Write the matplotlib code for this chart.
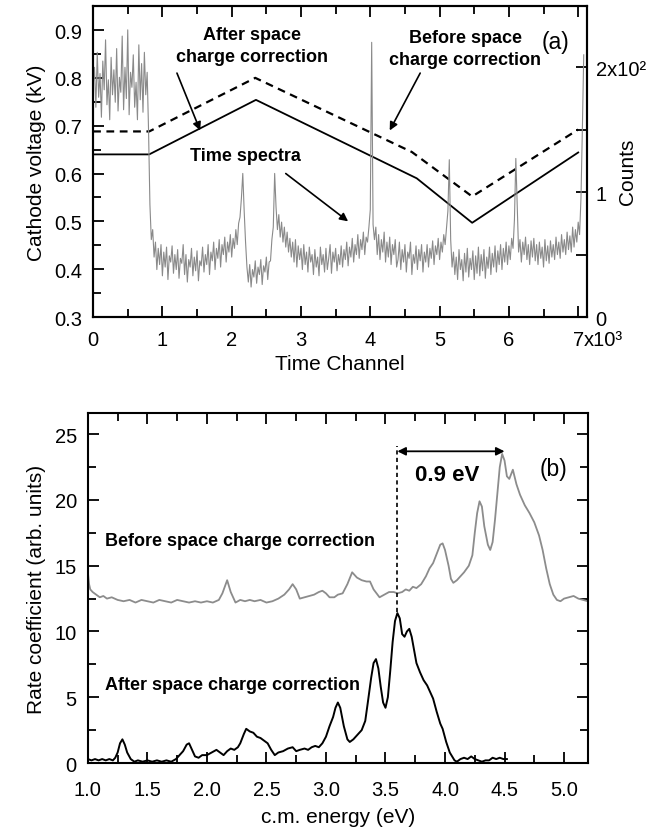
import numpy as np
import matplotlib.pyplot as plt
from matplotlib.ticker import MultipleLocator

plt.rcParams['font.family'] = ['Liberation Sans', 'DejaVu Sans']
plt.rcParams['axes.linewidth'] = 1.5

# ---- panel (a) data ----
# time spectrum, one value every 20 channels (0 ... 7080)
counts = [185, 200, 168, 212, 176, 195, 160, 205, 182, 222, 170, 190, 158, 208, 178, 198, 172, 215, 165, 192,
          180, 225, 166, 200, 175, 230, 162, 196, 184, 210, 168, 188, 158, 218, 174, 203, 164, 212, 178, 196,
          150, 90, 62, 70, 48, 60, 38, 55, 42, 58, 33, 52, 40, 56, 30, 49, 44, 57, 35, 50,
          38, 54, 31, 47, 43, 58, 34, 50, 28, 46, 40, 55, 33, 48, 37, 53, 29, 45, 41, 56,
          36, 50, 42, 58, 34, 52, 45, 60, 38, 55, 47, 62, 40, 58, 50, 64, 44, 60, 52, 66,
          48, 63, 55, 70, 58, 75, 80, 95, 115, 85, 60, 40, 28, 42, 24, 38, 32, 45, 27, 40,
          34, 46, 26, 41, 36, 48, 30, 44, 45, 62, 72, 115, 88, 70, 82, 64, 76, 60, 72, 56,
          68, 52, 63, 48, 60, 44, 62, 40, 57, 46, 55, 38, 58, 42, 52, 36, 56, 44, 50, 34,
          54, 40, 48, 33, 56, 42, 50, 36, 55, 38, 47, 58, 35, 52, 44, 55, 37, 50, 42, 57,
          40, 54, 46, 60, 41, 56, 48, 63, 44, 58, 50, 66, 47, 62, 54, 68, 50, 64, 60, 72,
          86, 220, 74, 62, 72, 50, 66, 46, 62, 52, 68, 44, 60, 48, 64, 42, 58, 50, 62, 40,
          46, 60, 38, 54, 44, 58, 36, 52, 47, 60, 34, 50, 43, 57, 38, 54, 45, 58, 36, 52,
          44, 58, 40, 55, 47, 61, 42, 57, 50, 63, 46, 60, 52, 66, 58, 72, 85, 126, 62, 40,
          52, 34, 48, 30, 54, 38, 46, 29, 51, 36, 55, 32, 47, 38, 53, 30, 49, 35, 56, 33,
          50, 37, 54, 31, 48, 39, 56, 34, 51, 40, 57, 36, 53, 42, 58, 38, 55, 44, 60, 42,
          57, 46, 63, 55, 78, 127, 88, 52, 62, 44, 60, 50, 64, 46, 58, 42, 61, 48, 63, 45,
          58, 42, 60, 47, 56, 40, 62, 45, 57, 43, 61, 48, 58, 46, 64, 50, 60, 47, 66, 52,
          62, 50, 68, 54, 65, 52, 72, 56, 70, 60, 76, 66, 95, 150, 210]
channel = 20 * np.arange(len(counts))

after_ch = [0, 810, 2350, 4670, 5470, 7000]
after_kv = [0.640, 0.640, 0.754, 0.590, 0.497, 0.644]
before_ch = [0, 810, 2340, 4600, 5470, 7000]
before_kv = [0.688, 0.688, 0.800, 0.645, 0.552, 0.692]

# ---- panel (b) data ----
e_before = [1.00, 1.01, 1.02, 1.04, 1.07, 1.10, 1.13, 1.16, 1.20, 1.25, 1.30, 1.35,
            1.40, 1.45, 1.50, 1.55, 1.60, 1.65, 1.70, 1.75, 1.80, 1.85, 1.90, 1.95,
            2.00, 2.05, 2.10, 2.13, 2.17, 2.20, 2.24, 2.28, 2.32, 2.36, 2.40, 2.45,
            2.50, 2.55, 2.60, 2.65, 2.69, 2.72, 2.75, 2.78, 2.82, 2.86, 2.90, 2.94,
            2.97, 3.00, 3.03, 3.07, 3.10, 3.14, 3.18, 3.22, 3.26, 3.30, 3.34, 3.37,
            3.40, 3.45, 3.49, 3.53, 3.57, 3.60, 3.64, 3.67, 3.70, 3.73, 3.76, 3.80,
            3.84, 3.87, 3.90, 3.93, 3.96, 3.98, 4.00, 4.03, 4.05, 4.07, 4.10, 4.13,
            4.16, 4.20, 4.23, 4.25, 4.27, 4.29, 4.31, 4.33, 4.36, 4.38, 4.40, 4.42,
            4.44, 4.46, 4.48, 4.50, 4.52, 4.54, 4.57, 4.60, 4.63, 4.67, 4.71, 4.75,
            4.79, 4.82, 4.85, 4.88, 4.91, 4.94, 4.97, 5.00, 5.04, 5.08, 5.12, 5.16, 5.20]
r_before = [14.5, 13.6, 13.2, 13.0, 12.8, 12.6, 12.7, 12.5, 12.6, 12.4, 12.3, 12.4,
            12.2, 12.4, 12.3, 12.2, 12.4, 12.3, 12.2, 12.4, 12.3, 12.2, 12.3, 12.2,
            12.3, 12.2, 12.4, 12.9, 13.9, 13.0, 12.2, 12.4, 12.3, 12.4, 12.3, 12.4,
            12.2, 12.3, 12.5, 12.8, 13.2, 13.6, 13.2, 12.5, 12.6, 12.7, 12.8, 13.0,
            13.1, 12.9, 12.6, 12.6, 12.8, 12.9, 13.6, 14.5, 14.1, 13.9, 13.8, 13.8,
            13.2, 12.6, 12.8, 13.0, 13.0, 12.9, 13.0, 13.2, 13.1, 13.4, 13.3, 13.6,
            14.2, 14.8, 15.2, 15.9, 16.6, 16.7, 16.2, 15.0, 14.0, 13.7, 13.9, 14.2,
            14.5, 15.0, 15.8, 17.5, 19.0, 19.9, 19.5, 18.0, 16.6, 16.2, 16.8, 18.5,
            20.5, 22.5, 23.5, 23.0, 21.8, 21.6, 22.3, 21.2, 20.4, 19.6, 19.0, 18.3,
            17.3, 16.2, 14.8, 13.6, 12.8, 12.4, 12.3, 12.5, 12.6, 12.7, 12.5, 12.4, 12.3]

e_after = [1.00, 1.03, 1.06, 1.09, 1.12, 1.15, 1.18, 1.21, 1.23, 1.25, 1.27, 1.29,
           1.31, 1.33, 1.36, 1.39, 1.42, 1.46, 1.50, 1.54, 1.58, 1.62, 1.66, 1.70,
           1.74, 1.77, 1.80, 1.83, 1.85, 1.87, 1.90, 1.93, 1.96, 2.00, 2.04, 2.08,
           2.11, 2.14, 2.17, 2.20, 2.23, 2.26, 2.28, 2.31, 2.33, 2.36, 2.39, 2.42,
           2.45, 2.48, 2.51, 2.54, 2.57, 2.60, 2.64, 2.68, 2.72, 2.75, 2.78, 2.82,
           2.85, 2.88, 2.91, 2.94, 2.97, 3.00, 3.03, 3.06, 3.08, 3.10, 3.12, 3.15,
           3.18, 3.20, 3.23, 3.26, 3.28, 3.30, 3.33, 3.35, 3.38, 3.40, 3.42, 3.44,
           3.46, 3.48, 3.50, 3.52, 3.54, 3.56, 3.58, 3.60, 3.62, 3.64, 3.66, 3.68,
           3.70, 3.72, 3.74, 3.76, 3.79, 3.82, 3.85, 3.88, 3.90, 3.93, 3.96, 3.98,
           4.01, 4.04, 4.06, 4.08, 4.10, 4.13, 4.16, 4.19, 4.22, 4.25, 4.28, 4.31,
           4.34, 4.37, 4.40, 4.43, 4.46, 4.49, 4.52]
r_after = [0.3, 0.2, 0.3, 0.2, 0.3, 0.2, 0.3, 0.2, 0.4, 0.8, 1.5, 1.8,
           1.4, 0.8, 0.3, 0.1, 0.2, 0.1, 0.2, 0.1, 0.2, 0.1, 0.2, 0.1,
           0.3, 0.6, 0.9, 1.4, 1.5, 1.1, 0.5, 0.4, 0.6, 0.6, 0.8, 1.0,
           0.8, 0.6, 0.9, 1.1, 1.0, 1.2, 1.5, 2.2, 2.6, 2.4, 2.3, 2.0,
           1.9, 1.7, 1.5, 1.0, 0.6, 0.8, 0.9, 1.1, 1.2, 0.9, 1.0, 1.1,
           1.0, 1.2, 1.3, 1.2, 1.5, 2.0, 2.8, 3.5, 4.2, 4.6, 4.2, 2.8,
           1.8, 1.6, 1.8, 2.1, 2.3, 2.5, 3.2, 4.5, 6.5, 7.6, 7.9, 7.2,
           5.8, 4.6, 4.2, 5.0, 7.0, 9.2, 10.8, 11.4, 11.0, 9.8, 9.6, 10.0,
           10.2, 9.6, 8.6, 7.6, 6.9, 6.3, 5.9, 5.3, 4.9, 3.9, 3.0, 2.6,
           1.6, 0.8, 0.5, 0.2, 0.1, 0.3, 0.4, 0.3, 0.5, 0.3, 0.2, 0.1,
           0.2, 0.2, 0.4, 0.3, 0.4, 0.3, 0.3]

fig = plt.figure(figsize=(6.51, 8.29), dpi=100)
FS = 14.5

# ================= panel (a) =================
ax1 = fig.add_axes([0.143, 0.6164, 0.759, 0.375])
ax1.plot(before_ch, before_kv, color='black', lw=1.6, ls=(0, (3.5, 2.5)))
ax1.plot(after_ch, after_kv, color='black', lw=1.3)
ax1.set_xlim(0, 7130)
ax1.set_ylim(0.3, 0.95)
ax1.xaxis.set_minor_locator(MultipleLocator(500))
ax1.yaxis.set_major_locator(MultipleLocator(0.1))
ax1.yaxis.set_minor_locator(MultipleLocator(0.05))
ax1.set_xticks(range(0, 8000, 1000))
ax1.set_xticklabels(['0', '1', '2', '3', '4', '5', '6', '7'])
ax1.tick_params(which='both', direction='in', top=True, right=False, width=1.3, labelsize=FS)
ax1.tick_params(which='major', length=8)
ax1.tick_params(which='minor', length=6)
ax1.tick_params(axis='x', pad=9)
ax1.tick_params(axis='y', pad=8)
ax1.set_ylabel('Cathode voltage (kV)', fontsize=15, labelpad=6)
ax1.set_xlabel('Time Channel', fontsize=15, labelpad=4)
ax1.annotate('x10³', xy=(7000, 0), xycoords=('data', 'axes fraction'),
             xytext=(4, -9), textcoords='offset points', ha='left', va='top', fontsize=FS)

axr = ax1.twinx()
axr.plot(channel, counts, color='#8a8a8a', lw=0.8)
axr.set_ylim(0, 249)
axr.set_yticks([0, 50, 100, 150, 200])
axr.set_yticklabels(['0', '', '1', '', '2x10²'])
axr.tick_params(direction='in', length=8, width=1.3, labelsize=FS, pad=6)
axr.set_ylabel('Counts', fontsize=15)
axr.yaxis.set_label_coords(1.062, 0.47)

bold = dict(fontsize=13, fontweight='bold', ha='center', va='center', linespacing=1.4)
ax1.text(2300, 0.868, 'After space\ncharge correction', **bold)
ax1.text(5370, 0.861, 'Before space\ncharge correction', **bold)
ax1.text(2200, 0.637, 'Time spectra', **bold)
ax1.text(6670, 0.875, '(a)', fontsize=16.5, ha='center', va='center')
arr = dict(arrowstyle='-|>', color='black', lw=1.2, mutation_scale=12, shrinkA=0, shrinkB=0)
ax1.annotate('', xy=(1545, 0.69), xytext=(1210, 0.81), arrowprops=arr)
ax1.annotate('', xy=(4280, 0.69), xytext=(4720, 0.81), arrowprops=arr)
ax1.annotate('', xy=(3680, 0.50), xytext=(2780, 0.60), arrowprops=arr)

# ================= panel (b) =================
ax2 = fig.add_axes([0.135, 0.0784, 0.768, 0.422])
ax2.plot(e_before, r_before, color='#8c8c8c', lw=1.3)
ax2.plot(e_after, r_after, color='black', lw=1.4)
ax2.set_xlim(1.0, 5.2)
ax2.set_ylim(0, 26.6)
ax2.xaxis.set_major_locator(MultipleLocator(0.5))
ax2.xaxis.set_minor_locator(MultipleLocator(0.25))
ax2.yaxis.set_major_locator(MultipleLocator(5))
ax2.yaxis.set_minor_locator(MultipleLocator(2.5))
ax2.xaxis.set_major_formatter(plt.FormatStrFormatter('%.1f'))
ax2.tick_params(which='both', direction='in', top=True, right=True, width=1.3, labelsize=FS)
ax2.tick_params(which='major', length=8)
ax2.tick_params(which='minor', length=6)
ax2.tick_params(axis='x', pad=12)
ax2.tick_params(axis='y', pad=8)
ax2.set_xlabel('c.m. energy (eV)', fontsize=15, labelpad=6)
ax2.set_ylabel('Rate coefficient (arb. units)', fontsize=15, labelpad=6)

ax2.text(1.14, 16.9, 'Before space charge correction', fontsize=13, fontweight='bold',
         ha='left', va='center')
ax2.text(1.14, 6.0, 'After space charge correction', fontsize=13, fontweight='bold',
         ha='left', va='center')
ax2.text(4.91, 22.4, '(b)', fontsize=16.5, ha='center', va='center')
ax2.text(4.02, 21.9, '0.9 eV', fontsize=16, fontweight='bold', ha='center', va='center')
ax2.plot([3.6, 3.6], [11.5, 24.1], color='black', lw=1.2, ls=(0, (2.5, 2)))
ax2.annotate('', xy=(4.5, 23.7), xytext=(3.6, 23.7),
             arrowprops=dict(arrowstyle='<|-|>', color='black', lw=1.3, mutation_scale=12,
                             shrinkA=0, shrinkB=0))

fig.savefig('out.png', dpi=100)
